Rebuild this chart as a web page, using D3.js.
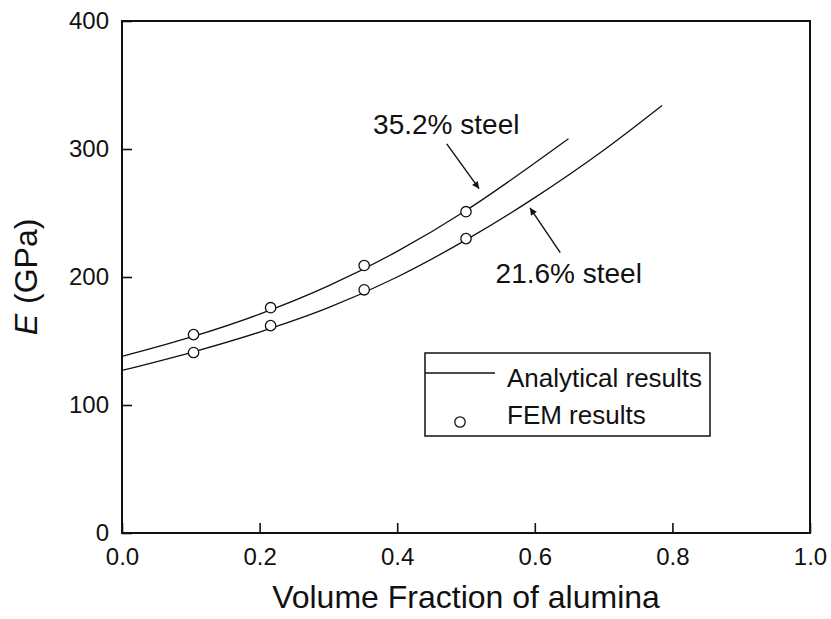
<!DOCTYPE html>
<html>
<head>
<meta charset="utf-8">
<script src="https://cdn.jsdelivr.net/npm/d3@7"></script>
<style>
  body { margin: 0; background: #fff; }
  text { font-family: "Liberation Sans", Arial, sans-serif; fill: #111; }
</style>
</head>
<body>
<svg id="chart" width="831" height="619"></svg>
<script>
/* tick values */
const xTicks = [0.0, 0.2, 0.4, 0.6, 0.8, 1.0];
const yTicks = [0, 100, 200, 300, 400];

/* analytical curves */
const upperX = [0, 0.1, 0.2, 0.3, 0.4, 0.5, 0.6, 0.649];
const upperE = [138, 153, 171, 193, 220, 252, 289, 308];
const lowerX = [0, 0.1, 0.2, 0.3, 0.4, 0.5, 0.6, 0.7, 0.785];
const lowerE = [127, 141, 157, 176, 200, 229, 262, 299, 334];

/* FEM points */
const femX = [0.104, 0.216, 0.352, 0.5];
const femUpper = [155, 176, 209, 251];
const femLower = [141, 162, 190, 230];

/* annotations */
const labels = ["35.2% steel", "21.6% steel"];

const width = 831, height = 619;
const margin = { left: 122, right: 21, top: 21, bottom: 86 };

const svg = d3.select("#chart");

const xScale = d3.scaleLinear().domain([0, 1]).range([margin.left, width - margin.right]);
const yScale = d3.scaleLinear().domain([0, 400]).range([height - margin.bottom, margin.top]);

/* axes with inward ticks */
const xAxis = d3.axisBottom(xScale).tickValues(xTicks).tickFormat(d3.format(".1f"))
    .tickSizeInner(-10).tickSizeOuter(0).tickPadding(15);
const yAxis = d3.axisLeft(yScale).tickValues(yTicks).tickFormat(d3.format("d"))
    .tickSizeInner(-10).tickSizeOuter(0).tickPadding(13);

const gx = svg.append("g").attr("transform", `translate(0,${yScale(0)})`).call(xAxis);
const gy = svg.append("g").attr("transform", `translate(${xScale(0)},0)`).call(yAxis);
[gx, gy].forEach(g => {
    g.select(".domain").remove();
    g.selectAll(".tick line").attr("stroke", "#111").attr("stroke-width", 1.6);
    g.selectAll(".tick text").style("font-size", "24px").attr("fill", "#111");
});

/* frame */
svg.append("rect")
    .attr("x", xScale(0)).attr("y", yScale(400))
    .attr("width", xScale(1) - xScale(0)).attr("height", yScale(0) - yScale(400))
    .attr("fill", "none").attr("stroke", "#111").attr("stroke-width", 2);

/* axis titles */
svg.append("text")
    .attr("x", (xScale(0) + xScale(1)) / 2).attr("y", 608)
    .attr("text-anchor", "middle").style("font-size", "32px")
    .text("Volume Fraction of alumina");

const yTitle = svg.append("text")
    .attr("transform", `translate(37,${(yScale(0) + yScale(400)) / 2}) rotate(-90)`)
    .attr("text-anchor", "middle").style("font-size", "32px");
yTitle.append("tspan").style("font-style", "italic").text("E");
yTitle.append("tspan").attr("dx", 10).text("(GPa)");

/* curves */
const line = d3.line()
    .x(d => xScale(d[0]))
    .y(d => yScale(d[1]))
    .curve(d3.curveMonotoneX);

[[upperX, upperE], [lowerX, lowerE]].forEach(([xs, es]) => {
    svg.append("path")
        .datum(xs.map((x, i) => [x, es[i]]))
        .attr("d", line)
        .attr("fill", "none").attr("stroke", "#111").attr("stroke-width", 1.3);
});

/* FEM circles */
[femUpper, femLower].forEach(es => {
    svg.selectAll(null)
        .data(femX.map((x, i) => [x, es[i]]))
        .join("circle")
        .attr("cx", d => xScale(d[0])).attr("cy", d => yScale(d[1]))
        .attr("r", 5.2)
        .attr("fill", "#fff").attr("stroke", "#111").attr("stroke-width", 1.3);
});

/* arrows */
const defs = svg.append("defs");
defs.append("marker")
    .attr("id", "arrow").attr("viewBox", "0 0 10 10")
    .attr("refX", 10).attr("refY", 5)
    .attr("markerWidth", 11).attr("markerHeight", 7)
    .attr("markerUnits", "userSpaceOnUse")
    .attr("orient", "auto")
    .append("path").attr("d", "M0,0 L10,5 L0,10 Z").attr("fill", "#111");

/* arrow ends given in data units so they follow the scales */
const arrows = [
    { from: [0.472, 304], to: [0.519, 269] },
    { from: [0.637, 219], to: [0.593, 254] }
];
arrows.forEach(a => {
    svg.append("line")
        .attr("x1", xScale(a.from[0])).attr("y1", yScale(a.from[1]))
        .attr("x2", xScale(a.to[0])).attr("y2", yScale(a.to[1]))
        .attr("stroke", "#111").attr("stroke-width", 1.4)
        .attr("marker-end", "url(#arrow)");
});

svg.append("text")
    .attr("x", xScale(0.365)).attr("y", yScale(312))
    .style("font-size", "28px").text(labels[0]);
svg.append("text")
    .attr("x", xScale(0.543)).attr("y", yScale(195))
    .style("font-size", "28px").text(labels[1]);

/* legend */
const lg = svg.append("g").attr("transform", "translate(425,353)");
lg.append("rect")
    .attr("width", 285).attr("height", 83)
    .attr("fill", "#fff").attr("stroke", "#111").attr("stroke-width", 1.5);
lg.append("line")
    .attr("x1", 0).attr("x2", 70).attr("y1", 20).attr("y2", 20)
    .attr("stroke", "#111").attr("stroke-width", 1.3);
lg.append("text").attr("x", 82).attr("y", 34)
    .style("font-size", "26px").text("Analytical results");
lg.append("circle").attr("cx", 35).attr("cy", 69).attr("r", 5.2)
    .attr("fill", "#fff").attr("stroke", "#111").attr("stroke-width", 1.3);
lg.append("text").attr("x", 82).attr("y", 71)
    .style("font-size", "26px").text("FEM results");
</script>
</body>
</html>
